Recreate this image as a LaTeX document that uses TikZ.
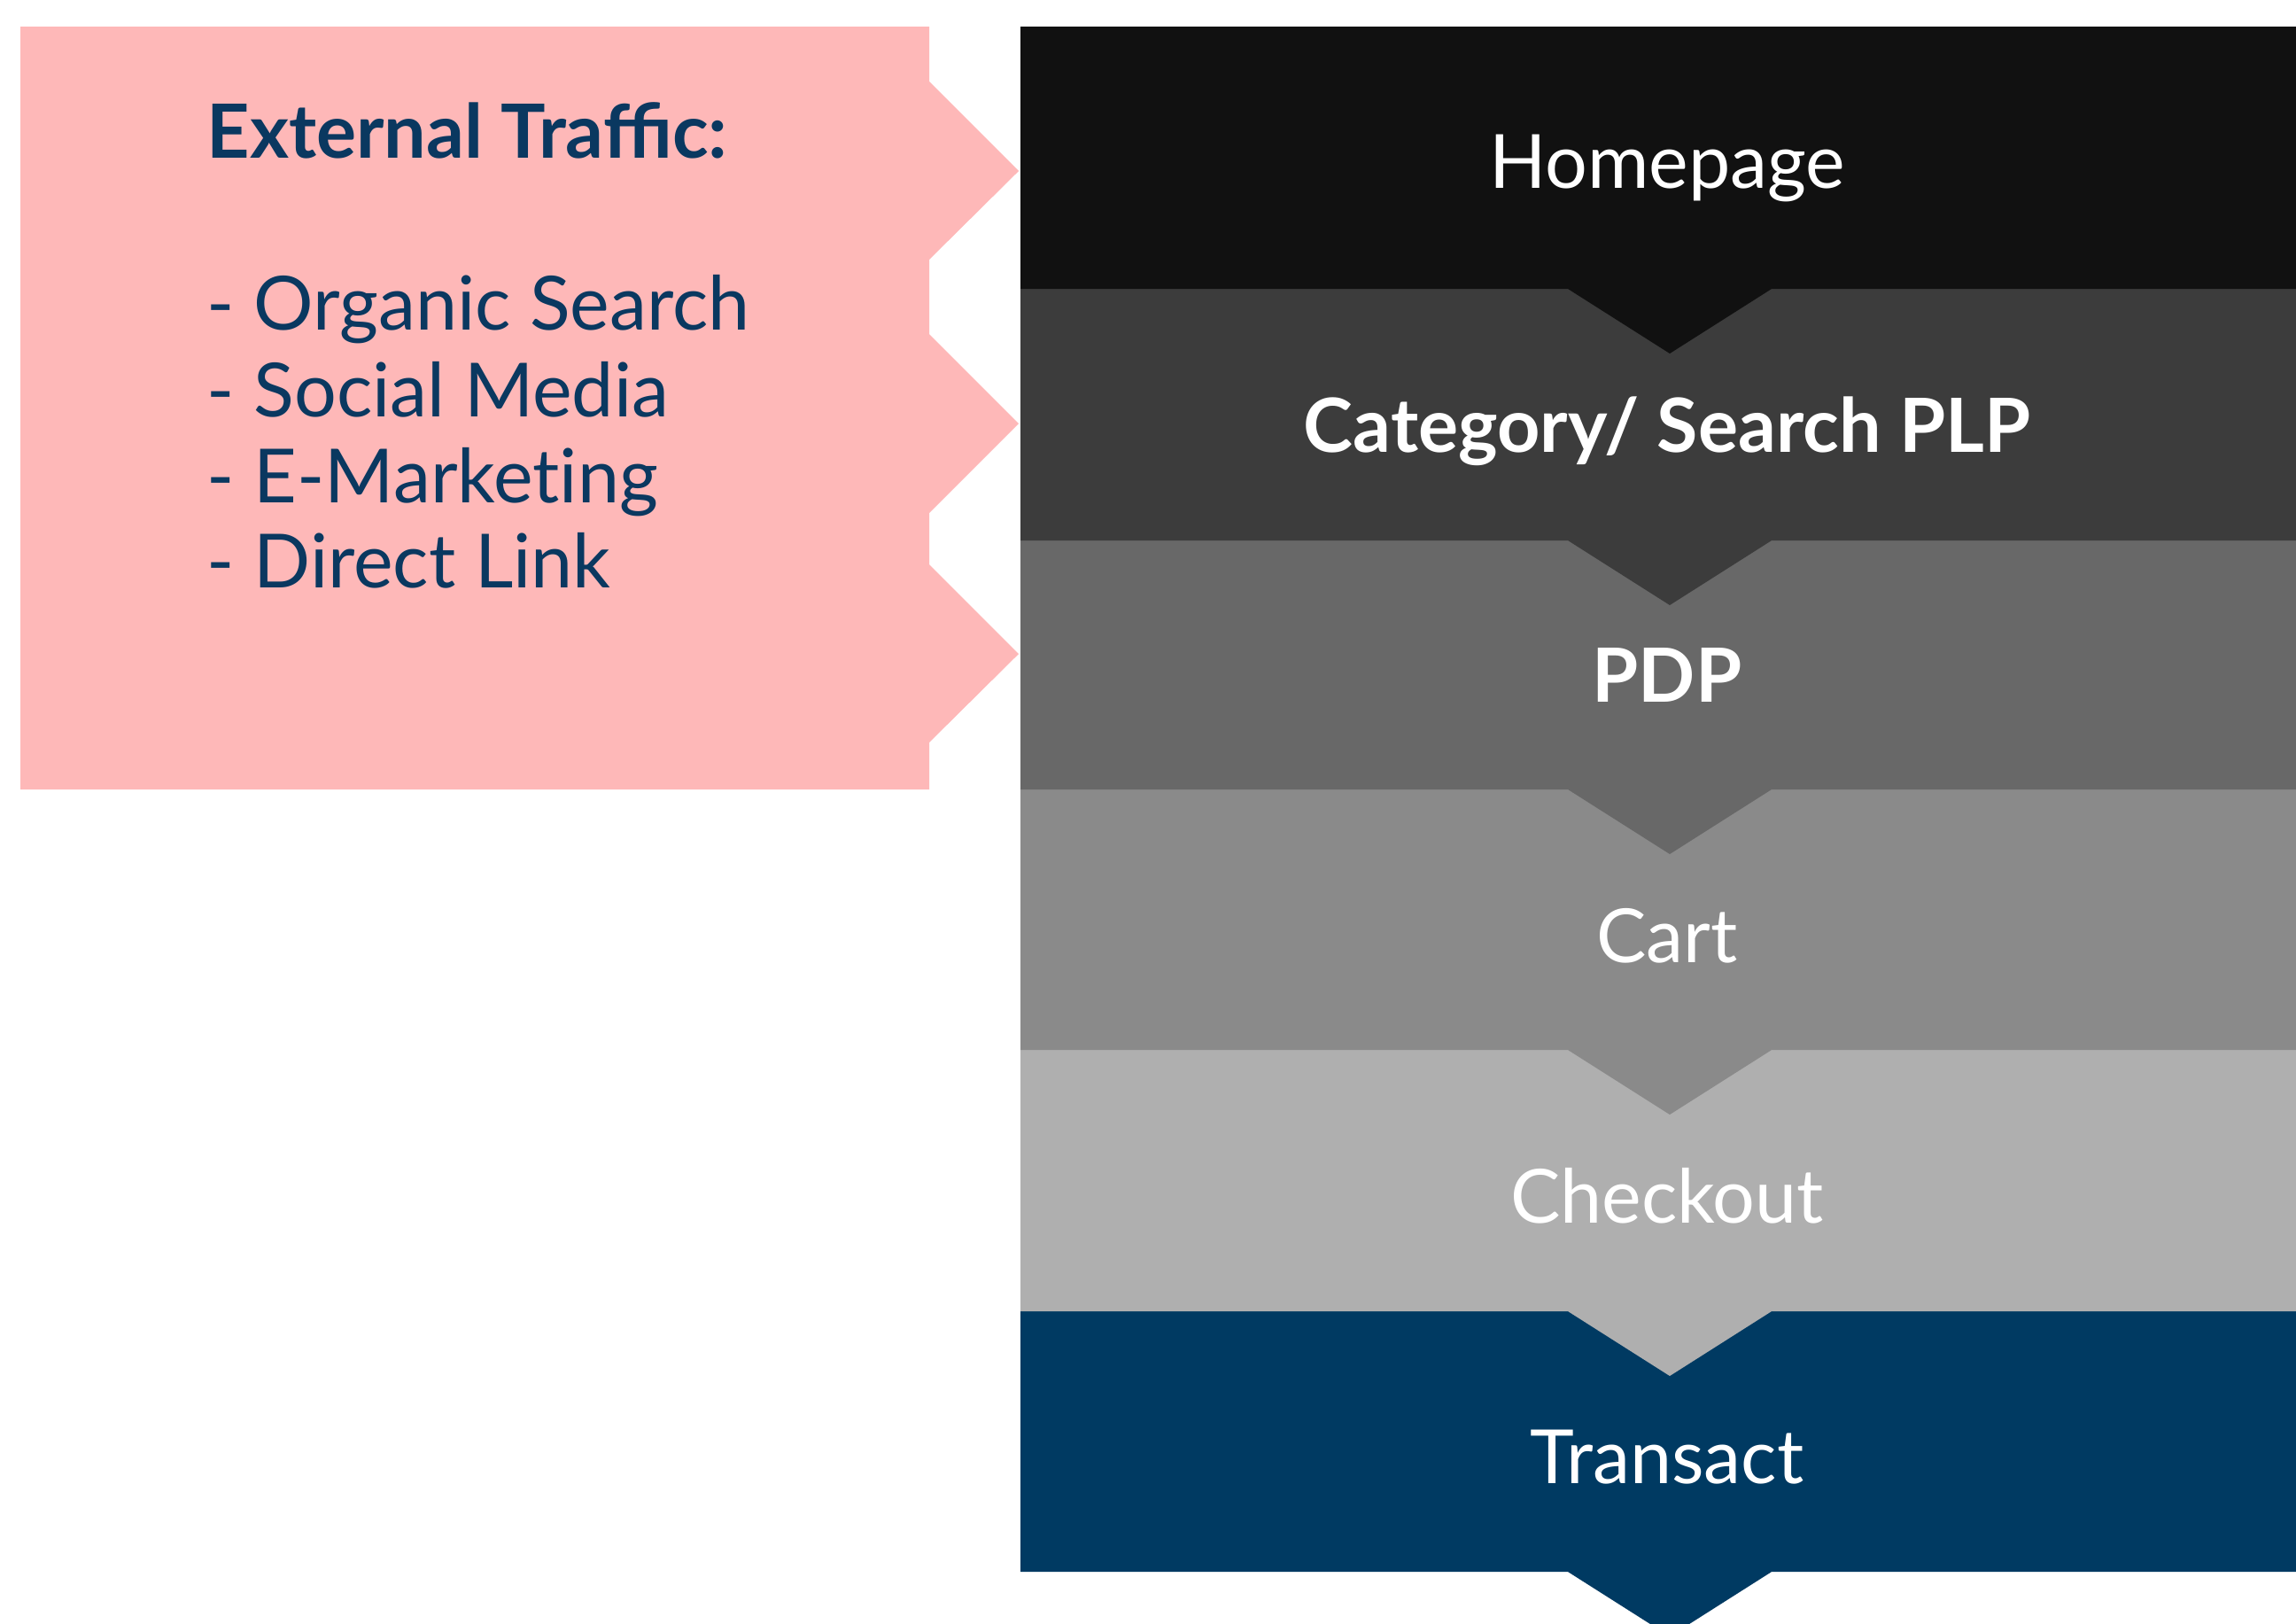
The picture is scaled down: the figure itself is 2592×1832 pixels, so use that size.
\documentclass[tikz,border=0pt]{standalone}
\usepackage{fontspec}
\setmainfont{Lato}
\definecolor{pinkbox}{RGB}{254,184,184}
\definecolor{navytext}{RGB}{10,56,96}
\definecolor{bandA}{RGB}{17,17,17}
\definecolor{bandB}{RGB}{60,60,60}
\definecolor{bandC}{RGB}{104,104,104}
\definecolor{bandD}{RGB}{138,138,138}
\definecolor{bandE}{RGB}{175,175,175}
\definecolor{bandF}{RGB}{0,58,98}
\tikzset{
  stagelabel/.style={anchor=base, text=white, inner sep=0pt, font=\fontsize{24}{29}\selectfont},
  stagebold/.style={stagelabel, font=\fontsize{24}{29}\selectfont\bfseries},
  sourcetext/.style={anchor=base west, text=navytext, inner sep=0pt, font=\fontsize{24}{29}\selectfont},
}
% one funnel band: rectangle with a chevron hanging below its lower edge
\newcommand{\funnelband}[3]{%
  \fill[#1] (1152,#2) -- (2640,#2) -- (2640,#3) -- (2000,#3) -- (1885,#3+73)
    -- (1770,#3) -- (1152,#3) -- cycle;}
\begin{document}
\begin{tikzpicture}[x=0.01cm, y=-0.01cm]
\useasboundingbox (0,0) rectangle (2592,1832);
\fill[white] (0,0) rectangle (2592,1832);
\begin{scope}
\clip (0,0) rectangle (2592,1832);
% funnel bands, lowest first so each chevron overlaps the band below
\funnelband{bandF}{1480}{1774}
\funnelband{bandE}{1185}{1480}
\funnelband{bandD}{891}{1185}
\funnelband{bandC}{610}{891}
\funnelband{bandB}{326}{610}
\funnelband{bandA}{30}{326}
\end{scope}
% traffic sources panel with three arrow points
\fill[pinkbox] (23,30) -- (1049,30) -- (1049,92) -- (1150,193) -- (1049,293)
  -- (1049,377) -- (1150,478) -- (1049,579) -- (1049,637) -- (1150,738)
  -- (1049,838) -- (1049,891) -- (23,891) -- cycle;
\node[sourcetext, font=\fontsize{24}{29}\selectfont\bfseries] (ext) at (233,178) {External Traffic:};
\node[sourcetext] (org) at (233,372) {- Organic Search};
\node[sourcetext] (soc) at (233,470) {- Social Media};
\node[sourcetext] (emk) at (233,567) {\addfontfeature{Ligatures=NoCommon}- E-Marketing};
\node[sourcetext] (dir) at (233,663) {- Direct Link};
% stage labels
\node[stagelabel] (home) at (1882,212) {Homepage};
\node[stagebold] (plp) at (1882,510) {Category/ Search PLP};
\node[stagebold] (pdp) at (1882,792) {PDP};
\node[stagelabel] (cart) at (1882,1086) {Cart};
\node[stagelabel] (chk) at (1882,1380) {Checkout};
\node[stagelabel] (trx) at (1882,1674) {Transact};
\end{tikzpicture}
\end{document}
